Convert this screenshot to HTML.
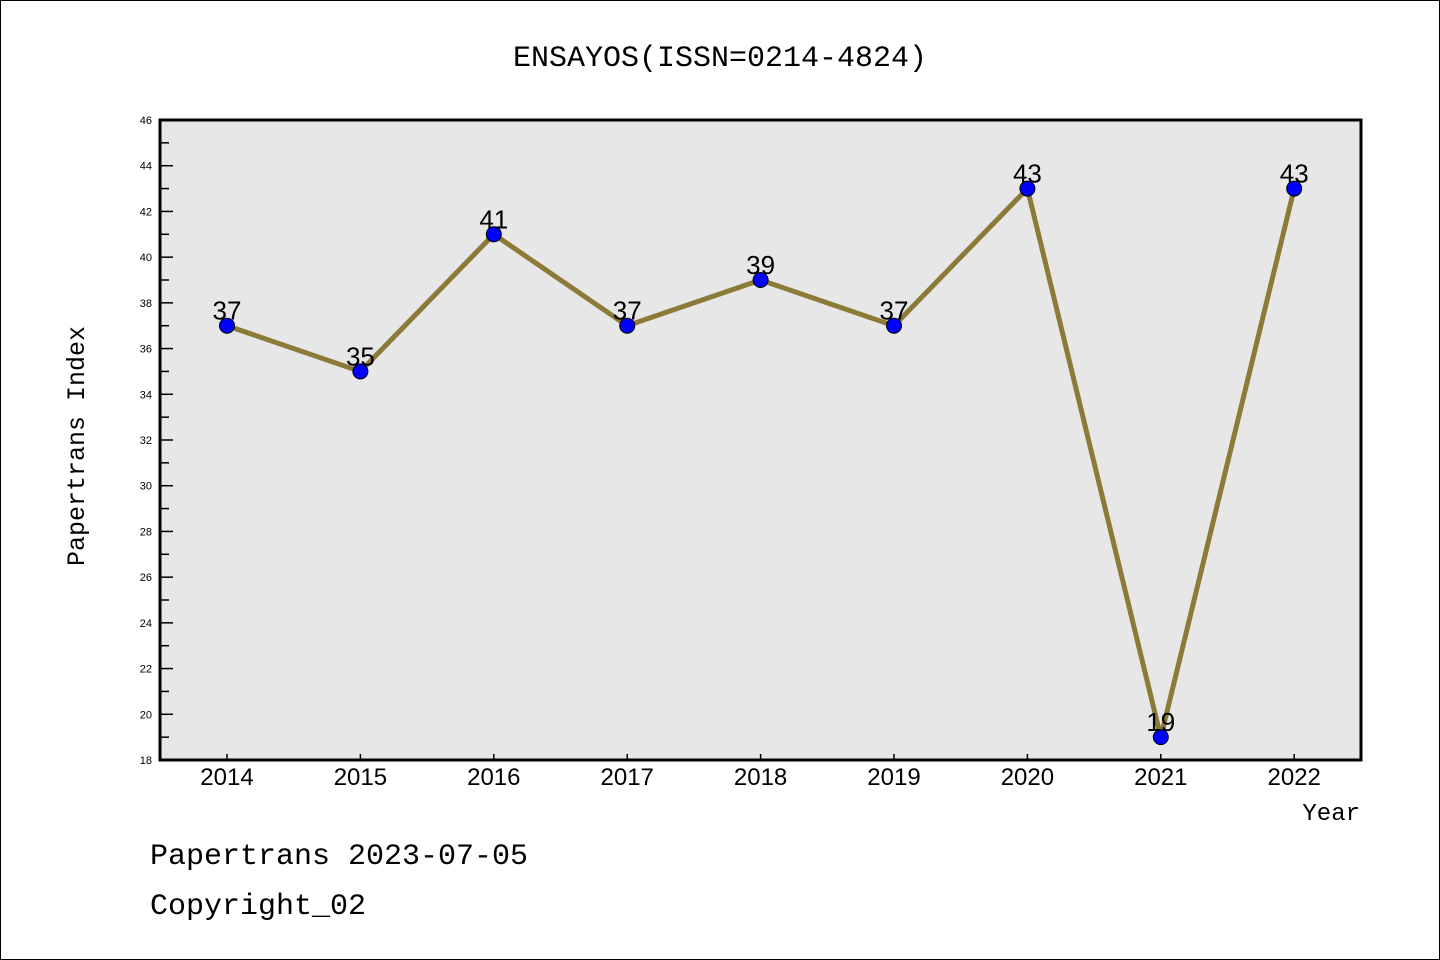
<!DOCTYPE html>
<html><head><meta charset="utf-8"><style>
body{margin:0;background:#fff}
svg{display:block;font-family:"Liberation Mono","DejaVu Sans Mono",monospace}
</style></head><body>
<svg id="c" width="1440" height="960">
<rect x="0.5" y="0.5" width="1439" height="959" fill="#fff" stroke="#000"/>
<text x="720" y="66" font-size="30" text-anchor="middle">ENSAYOS(ISSN=0214-4824)</text>
<rect x="160" y="120" width="1201" height="640" fill="#e7e7e7"/>
<g id="axes"></g>
<g id="marks"></g>
<rect x="160" y="120" width="1201" height="640" fill="none" stroke="#000" stroke-width="3"/>
<text x="84" y="446" font-size="25" text-anchor="middle" transform="rotate(-90 84 446)">Papertrans Index</text>
<text x="1360" y="820" font-size="24" text-anchor="end">Year</text>
<text x="150" y="864" font-size="30">Papertrans 2023-07-05</text>
<text x="150" y="914" font-size="30">Copyright_02</text>
</svg>
<script>
const years=[2014,2015,2016,2017,2018,2019,2020,2021,2022];
const values=[37,35,41,37,39,37,43,19,43];
const yTicks=[18,20,22,24,26,28,30,32,34,36,38,40,42,44,46];
const NS="http://www.w3.org/2000/svg";
const x0=227,xStep=133.4,yMin=18,yMax=46,yTop=120,yBot=760;
function xs(i){return x0+i*xStep;}
function ys(v){return yBot-(v-yMin)/(yMax-yMin)*(yBot-yTop);}
function mk(t,a,p){const e=document.createElementNS(NS,t);for(const k in a)e.setAttribute(k,a[k]);p.appendChild(e);return e;}
const ax=document.getElementById('axes'),mg=document.getElementById('marks');
yTicks.forEach(v=>{
 const y=ys(v);
 const t=mk('line',{x1:160,x2:173,y1:y,y2:y,stroke:'#000','stroke-width':1.5},ax);
 
 
 const l=mk('text',{x:152,y:y+4,'font-size':11,'text-anchor':'end','font-family':'Liberation Sans, sans-serif'},ax);
 l.textContent=v;
 
 
 if(v<yMax){const ym=ys(v+1);
  const m=mk('line',{x1:160,x2:169,y1:ym,y2:ym,stroke:'#000','stroke-width':1.5},ax);
  
  }
});
years.forEach((yr,i)=>{
 const x=xs(i);
 const t=mk('line',{x1:x,x2:x,y1:yBot,y2:yBot-6,stroke:'#000','stroke-width':1.5},ax);
 
 
 const l=mk('text',{x:x,y:785,'font-size':24,'text-anchor':'middle','font-family':'Liberation Sans, sans-serif'},ax);
 l.textContent=yr;
 
 
});
const pts=values.map((v,i)=>xs(i)+','+ys(v)).join(' ');
const pl=mk('polyline',{points:pts,fill:'none',stroke:'#8c7a38','stroke-width':5,'stroke-linejoin':'round'},mg);


values.forEach((v,i)=>{
 const c=mk('circle',{cx:xs(i),cy:ys(v),r:7.5,fill:'#0000ff',stroke:'#000','stroke-width':1},mg);
 
 
 const l=mk('text',{x:xs(i),y:ys(v)-6,'font-size':26,'text-anchor':'middle','font-family':'Liberation Sans, sans-serif'},mg);
 l.textContent=v;
 
 
});
</script>
</body></html>
